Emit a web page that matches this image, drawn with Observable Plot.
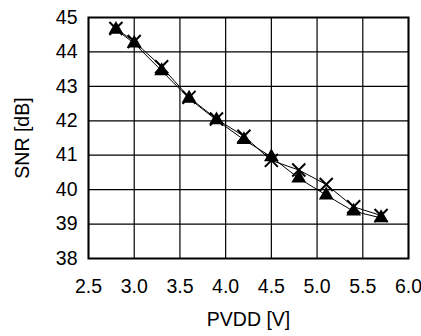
<!DOCTYPE html>
<html><head><meta charset="utf-8">
<script src="https://cdn.jsdelivr.net/npm/d3@7"></script>
<script src="https://cdn.jsdelivr.net/npm/@observablehq/plot@0.6"></script>
<style>body{margin:0;background:#fff}</style>
</head><body><div id="chart"></div>
<script>
const pvdd = [2.8, 3.0, 3.3, 3.6, 3.9, 4.2, 4.5, 4.8, 5.1, 5.4, 5.7];
const snrTriangle = [44.65, 44.25, 43.45, 42.65, 42.02, 41.45, 40.95, 40.33, 39.84, 39.37, 39.18];
const snrCross = [44.68, 44.3, 43.57, 42.68, 42.05, 41.55, 40.85, 40.57, 40.15, 39.5, 39.25];
const xTicks = [2.5, 3.0, 3.5, 4.0, 4.5, 5.0, 5.5, 6.0];
const yTicks = [38, 39, 40, 41, 42, 43, 44, 45];

const tri = pvdd.map((v, i) => ({pvdd: v, snr: snrTriangle[i]}));
const crs = pvdd.map((v, i) => ({pvdd: v, snr: snrCross[i]}));

const chart = Plot.plot({
  width: 421, height: 336,
  marginLeft: 88, marginRight: 13, marginTop: 17, marginBottom: 78,
  style: {fontFamily: "'Liberation Sans', Arial, sans-serif", fontSize: "19.5px", background: "white", color: "black"},
  x: {domain: [2.5, 6]},
  y: {domain: [38, 45]},
  marks: [
    Plot.gridX(xTicks, {stroke: "black", strokeOpacity: 1, strokeWidth: 1.2}),
    Plot.gridY(yTicks, {stroke: "black", strokeOpacity: 1, strokeWidth: 1.2}),
    Plot.axisX(xTicks, {tickSize: 0, tickPadding: 21, tickFormat: d3.format(".1f"), label: "PVDD [V]", labelAnchor: "center", labelOffset: 67, labelArrow: "none"}),
    Plot.axisY(yTicks, {tickSize: 0, tickPadding: 11, label: "SNR [dB]", labelAnchor: "center", labelOffset: 73, labelArrow: "none"}),
    Plot.frame({stroke: "black", strokeWidth: 2}),
    Plot.line(tri, {x: "pvdd", y: "snr", stroke: "black", strokeWidth: 1}),
    Plot.line(crs, {x: "pvdd", y: "snr", stroke: "black", strokeWidth: 1}),
    Plot.dot(tri, {x: "pvdd", y: "snr", symbol: "triangle", fill: "black", stroke: "none", r: 5.5}),
    Plot.dot(crs, {x: "pvdd", y: "snr", symbol: "times", stroke: "black", strokeWidth: 2, r: 6})
  ]
});
document.getElementById("chart").appendChild(chart);
</script>
</body></html>
